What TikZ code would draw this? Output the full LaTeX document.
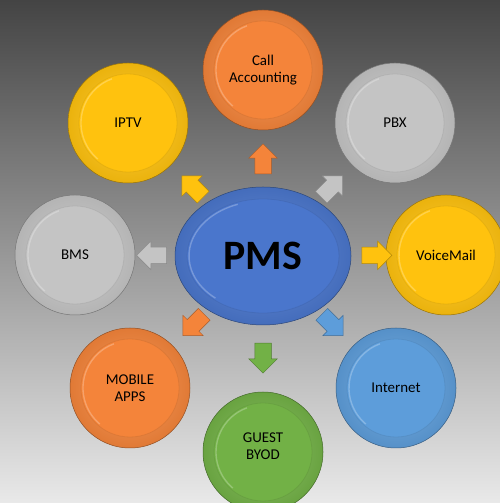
\documentclass[tikz,border=0pt]{standalone}
\usepackage{fontspec}
\setmainfont{Carlito}
\usetikzlibrary{calc,positioning,shapes.geometric,shapes.arrows}
\definecolor{HubBlue}{HTML}{4A76CC}
\definecolor{HubOrange}{HTML}{F4843A}
\definecolor{HubGray}{HTML}{C4C4C4}
\definecolor{HubYellow}{HTML}{FFC20E}
\definecolor{HubSky}{HTML}{5D9DDA}
\definecolor{HubGreen}{HTML}{72B146}
\definecolor{HubTop}{HTML}{444444}
\definecolor{HubBottom}{HTML}{E9E9E9}
\tikzset{
  every node/.style={font=\fontsize{15}{17}\selectfont, text=black, align=center},
  disc/.style={circle, minimum size=120bp, inner sep=0pt, draw=#1!60!black, line width=0.5bp,
    inner color=#1!80!white, outer color=#1!92!black,
    path picture={
      \fill[#1] (path picture bounding box.center) circle (49bp);
      \draw[#1!80!black, opacity=0.35, line width=0.8bp] (path picture bounding box.center) circle (49bp);
      \draw[white, opacity=0.25, line width=1.4bp] (path picture bounding box.center) ++(110:47bp) arc (110:230:47bp);
    }},
  hub/.style={ellipse, minimum width=176bp, minimum height=138bp, inner sep=0pt, draw=#1!60!black, line width=0.5bp,
    inner color=#1!82!white, outer color=#1!92!black,
    font=\fontsize{42}{46}\selectfont\bfseries,
    path picture={
      \fill[#1] (path picture bounding box.center) ellipse (76bp and 57bp);
      \draw[#1!80!black, opacity=0.35, line width=0.8bp] (path picture bounding box.center) ellipse (76bp and 57bp);
      \draw[white, opacity=0.25, line width=1.4bp] (path picture bounding box.center) ++(110:74bp and 55bp) arc [start angle=110, end angle=230, x radius=74bp, y radius=55bp];
    }},
  pointer/.style={single arrow, minimum height=30bp, minimum width=28bp, single arrow head extend=6bp,
    inner xsep=0pt, inner ysep=8bp, fill=#1, draw=#1!70!black, line width=0.5bp},
}
\begin{document}
\begin{tikzpicture}[x=1bp,y=1bp]
  \useasboundingbox (0,0) rectangle (500,503);
  \clip (0,0) rectangle (500,503);
  % backdrop
  \shade[top color=HubTop, bottom color=HubBottom] (0,0) rectangle (500,503);
  % centre and ring of services
  \node[hub=HubBlue] (pms) at (263,247) {PMS};
  \node[disc=HubOrange] (call) at (263,433) {Call\\Accounting};
  \node[disc=HubGray] (pbx) at (395,380) {PBX};
  \node[disc=HubYellow] (voice) at (446,248) {VoiceMail};
  \node[disc=HubSky] (internet) at (396,115) {Internet};
  \node[disc=HubGreen, text depth=12bp] (guest) at (263,51) {GUEST\\BYOD};
  \node[disc=HubOrange] (mobile) at (130,115) {MOBILE\\APPS};
  \node[disc=HubGray] (bms) at (75,248) {BMS};
  \node[disc=HubYellow] (iptv) at (128,380) {IPTV};
  % block arrows pointing outwards
  \node[pointer=HubOrange, rotate=90] (toCall) at ($(pms)!0.5!(call)$) {};
  \node[pointer=HubGray, rotate=45] (toPbx) at ($(pms)!0.5!(pbx)$) {};
  \node[pointer=HubYellow] (toVoice) at ($(pms)!0.6!(voice)$) {};
  \node[pointer=HubSky, rotate=-45] (toInternet) at ($(pms)!0.5!(internet)$) {};
  \node[pointer=HubGreen, rotate=-90] (toGuest) at ($(pms)!0.5!(guest)$) {};
  \node[pointer=HubOrange, rotate=-135] (toMobile) at ($(pms)!0.5!(mobile)$) {};
  \node[pointer=HubGray, rotate=180] (toBms) at ($(pms)!0.57!(bms)$) {};
  \node[pointer=HubYellow, rotate=135] (toIptv) at ($(pms)!0.5!(iptv)$) {};
\end{tikzpicture}
\end{document}
